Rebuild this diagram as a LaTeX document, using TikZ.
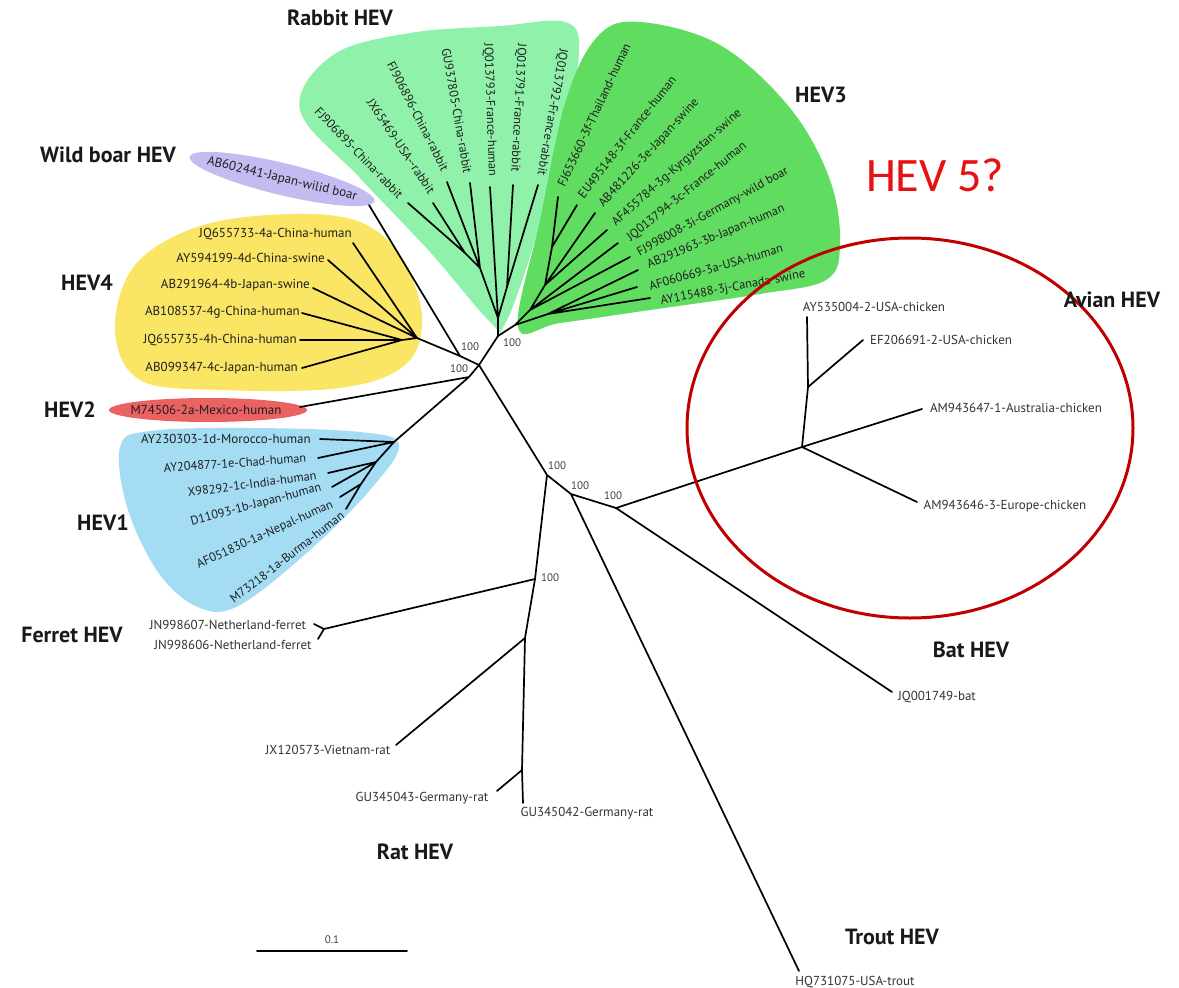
\documentclass[tikz,border=0pt]{standalone}
\usepackage{fontspec}
\setmainfont{PT Sans}
\newfontfamily\calib{Carlito}
\definecolor{rabbitc}{RGB}{144,242,170}
\definecolor{hevthree}{RGB}{96,220,96}
\definecolor{yellowc}{RGB}{250,230,100}
\definecolor{boarc}{RGB}{196,188,240}
\definecolor{hevtwo}{RGB}{234,98,98}
\definecolor{bluec}{RGB}{164,220,244}
\definecolor{ellred}{RGB}{192,0,0}
\definecolor{hfive}{RGB}{232,16,16}
\begin{document}
\begin{tikzpicture}[x=1pt,y=-1pt,
  br/.style={line width=1.7pt, black, line cap=round, line join=round},
  lab/.style={font=\fontsize{13}{13}\selectfont, inner sep=0pt, text=black!88},
  flab/.style={font=\fontsize{12.4}{12.4}\selectfont, inner sep=0pt, text=black!88},
  glab/.style={font=\fontsize{13}{13}\selectfont, inner sep=0pt, text=black!80},
  grp/.style={font=\bfseries\fontsize{22}{22}\selectfont, inner sep=0pt, text=black!90},
  bs/.style={font=\fontsize{11}{11}\selectfont, inner sep=0pt, text=black!75}]
\fill[white] (0,0) rectangle (1179,988);
\useasboundingbox (0,0) rectangle (1179,988);

% ---------- coloured clade areas ----------
\fill[rabbitc] plot[smooth cycle, tension=0.6] coordinates {(300,110) (333,55) (410,33) (500,26) (565,22) (579,52) (562,140) (532,250) (505,324) (490,322) (430,252) (360,178)};
\fill[hevthree] plot[smooth cycle, tension=0.6] coordinates {(518,327) (540,220) (566,100) (598,36) (640,22) (720,45) (790,108) (830,180) (840,245) (826,280) (760,294) (650,310) (560,323)};
\fill[yellowc] plot[smooth cycle, tension=0.6] coordinates {(115,330) (135,265) (200,226) (290,214) (360,222) (402,258) (422,318) (405,365) (340,388) (220,390) (140,380)};
\fill[bluec] plot[smooth cycle, tension=0.6] coordinates {(120,447) (150,431) (250,428) (360,432) (399,445) (370,490) (310,550) (240,605) (200,608) (160,575) (128,510)};
\fill[hevtwo] (208,410) ellipse [x radius=99, y radius=12];
\fill[boarc, rotate around={-13.5:(282,179)}] (282,179) ellipse [x radius=95, y radius=16];

% ---------- tree coordinates ----------
\coordinate (c0) at (479,365);
\coordinate (wb4) at (460,356);
\coordinate (wbt) at (369,205);
\coordinate (h4) at (417,338);
\coordinate (h4b) at (402,340);
\coordinate (t4a) at (353,243);
\coordinate (t4d) at (328,260);
\coordinate (t4b) at (313,288);
\coordinate (t4g) at (302,313);
\coordinate (t4h) at (300,340);
\coordinate (t4c) at (302,368);
\coordinate (rh) at (498,336);
\coordinate (r0) at (498,318);
\coordinate (rl) at (480,268);
\coordinate (rll) at (465,253);
\coordinate (rr) at (507,287);
\coordinate (tr1) at (408,203);
\coordinate (tr2) at (433,203);
\coordinate (tr3) at (447,182);
\coordinate (tr4) at (470,183);
\coordinate (tr5) at (490,187);
\coordinate (tr6) at (513,185);
\coordinate (tr7) at (538,185);
\coordinate (h3r) at (515,325);
\coordinate (h3a) at (530,310);
\coordinate (h3b) at (548,314);
\coordinate (h3c) at (545,285);
\coordinate (h3d) at (552,247);
\coordinate (t31) at (558,197);
\coordinate (t32) at (577,205);
\coordinate (t33) at (595,213);
\coordinate (t34) at (607,230);
\coordinate (t35) at (618,243);
\coordinate (t36) at (630,257);
\coordinate (t37) at (638,270);
\coordinate (t38) at (637,287);
\coordinate (t39) at (650,298);
\coordinate (n12) at (469,377);
\coordinate (t2) at (300,407);
\coordinate (h1a) at (394,442);
\coordinate (h1b) at (376,462);
\coordinate (h1c) at (361,484);
\coordinate (t1d) at (320,439);
\coordinate (t1e) at (318,458);
\coordinate (t1c) at (328,473);
\coordinate (t1b) at (332,487);
\coordinate (t1n) at (340,497);
\coordinate (t1m) at (346,509);
\coordinate (n1) at (547,475);
\coordinate (nrf) at (535,579);
\coordinate (fn) at (324,629);
\coordinate (tf7) at (314,624);
\coordinate (tf6) at (318,639);
\coordinate (nr1) at (525,638);
\coordinate (tvr) at (396,745);
\coordinate (nr2) at (522,770);
\coordinate (tg43) at (497,791);
\coordinate (tg42) at (523,803);
\coordinate (n2) at (571,494);
\coordinate (ttr) at (799,971);
\coordinate (n3) at (616,508);
\coordinate (tbat) at (892,692);
\coordinate (av) at (802,447);
\coordinate (av1) at (808,387);
\coordinate (tay) at (807,317);
\coordinate (tef) at (863,340);
\coordinate (tam7) at (922,409);
\coordinate (tam6) at (917,502);
\coordinate (sb1) at (257,951);
\coordinate (sb2) at (407,951);

% ---------- branches ----------
\draw[br] (c0) -- (wb4) (wb4) -- (wbt) (wb4) -- (h4);
\draw[br] (h4) -- (t4a) (h4) -- (t4d) (h4) -- (t4b) (h4) -- (h4b);
\draw[br] (h4b) -- (t4g) (h4b) -- (t4h) (h4b) -- (t4c);
\draw[br] (c0) -- (rh) (rh) -- (r0) (rh) -- (h3r);
\draw[br] (r0) -- (rl) (r0) -- (tr5) (r0) -- (rr);
\draw[br] (rl) -- (rll) (rl) -- (tr3) (rl) -- (tr4);
\draw[br] (rll) -- (tr1) (rll) -- (tr2);
\draw[br] (rr) -- (tr6) (rr) -- (tr7);
\draw[br] (h3r) -- (h3a) (h3r) -- (h3b);
\draw[br] (h3b) -- (t37) (h3b) -- (t38) (h3b) -- (t39);
\draw[br] (h3a) -- (h3c) (h3a) -- (t35) (h3a) -- (t36);
\draw[br] (h3c) -- (h3d) (h3c) -- (t33) (h3c) -- (t34);
\draw[br] (h3d) -- (t31) (h3d) -- (t32);
\draw[br] (c0) -- (n12) (n12) -- (t2) (n12) -- (h1a);
\draw[br] (h1a) -- (t1d) (h1a) -- (t1e) (h1a) -- (h1b);
\draw[br] (h1b) -- (t1c) (h1b) -- (t1b) (h1b) -- (h1c);
\draw[br] (h1c) -- (t1n) (h1c) -- (t1m);
\draw[br] (c0) -- (n1) (n1) -- (nrf) (n1) -- (n2);
\draw[br] (nrf) -- (fn) (fn) -- (tf7) (fn) -- (tf6);
\draw[br] (nrf) -- (nr1) (nr1) -- (tvr) (nr1) -- (nr2);
\draw[br] (nr2) -- (tg43) (nr2) -- (tg42);
\draw[br] (n2) -- (ttr) (n2) -- (n3);
\draw[br] (n3) -- (tbat) (n3) -- (av);
\draw[br] (av) -- (av1) (av1) -- (tay) (av1) -- (tef);
\draw[br] (av) -- (tam7) (av) -- (tam6);
\draw[br] (sb1) -- (sb2);

% ---------- bootstrap values ----------
\node[bs] (b1) at (470,347) {100};
\node[bs] (b2) at (512,343) {100};
\node[bs] (b3) at (459,369) {100};
\node[bs] (b4) at (557,466) {100};
\node[bs] (b5) at (580,486) {100};
\node[bs] (b6) at (613,496) {100};
\node[bs] (b7) at (550,578) {100};
\node[bs] (sbl) at (332,940) {0.1};

% ---------- rabbit labels ----------
\node[flab, rotate=-46] (lr1) at (359,153) {FJ906895-China-rabbit};
\node[flab, rotate=-56] (lr2) at (401,146) {JX65469-USA-{}-rabbit};
\node[flab, rotate=-63] (lr3) at (418,116) {FJ906896-China-rabbit};
\node[flab, rotate=-80] (lr4) at (457,111) {GU937805-China-rabbit};
\node[flab, rotate=-88] (lr5) at (490,110) {JQ013793-France-human};
\node[flab, rotate=-93] (lr6) at (518,108) {JQ013791-France-rabbit};
\node[flab, rotate=-100] (lr7) at (552,112) {JQ013792-France-rabbit};

% ---------- HEV3 labels ----------
\node[flab, rotate=65] (l31) at (594,115) {FJ653660-3f-Thailand-human};
\node[flab, rotate=52] (l32) at (627,137) {EU495148-3f-France-human};
\node[flab, rotate=47.6] (l33) at (649,153) {AB481226-3e-Japan-swine};
\node[flab, rotate=41.7] (l34) at (677,168) {AF455784-3g-Kyrgyzstan-swine};
\node[flab, rotate=39] (l35) at (687,192) {JQ013794-3c-France-human};
\node[flab, rotate=29] (l36) at (713,212) {FJ998008-3i-Germany-wild boar};
\node[flab, rotate=23] (l37) at (716,237) {AB291963-3b-Japan-human};
\node[flab, rotate=16] (l38) at (716,267) {AF060669-3a-USA-human};
\node[flab, rotate=10.7] (l39) at (733,288) {AY115488-3j-Canada-swine};

% ---------- wild boar / HEV4 / HEV2 / HEV1 labels ----------
\node[lab, rotate=-13.5] (lwb) at (282,179) {AB602441-Japan-wilid boar};
\node[lab, anchor=east] (l4a) at (352,234) {JQ655733-4a-China-human};
\node[lab, anchor=east] (l4d) at (325,258) {AY594199-4d-China-swine};
\node[lab, anchor=east] (l4b) at (310,285) {AB291964-4b-Japan-swine};
\node[lab, anchor=east] (l4g) at (300,312) {AB108537-4g-China-human};
\node[lab, anchor=east] (l4h) at (297,340) {JQ655735-4h-China-human};
\node[lab, anchor=east] (l4c) at (298,368) {AB099347-4c-Japan-human};
\node[lab] (l2a) at (206,410) {M74506-2a-Mexico-human};
\node[lab] (l1d) at (226,439) {AY230303-1d-Morocco-human};
\node[flab, rotate=4] (l1e) at (235,463) {AY204877-1e-Chad-human};
\node[flab, rotate=7.5] (l1c) at (252,484) {X98292-1c-India-human};
\node[flab, rotate=15] (l1b) at (256,505) {D11093-1b-Japan-human};
\node[flab, rotate=24.5] (l1n) at (265,535) {AF051830-1a-Nepal-human};
\node[flab, rotate=38] (l1m) at (287,557) {M73218-1a-Burma-human};

% ---------- other leaf labels ----------
\node[glab] (lf7) at (228,625) {JN998607-Netherland-ferret};
\node[glab] (lf6) at (233,645) {JN998606-Netherland-ferret};
\node[glab] (lvr) at (328,750) {JX120573-Vietnam-rat};
\node[glab] (lg43) at (422,798) {GU345043-Germany-rat};
\node[glab] (lg42) at (587,813) {GU345042-Germany-rat};
\node[glab] (ltr) at (855,982) {HQ731075-USA-trout};
\node[glab] (lbat) at (937,697) {JQ001749-bat};
\node[glab] (lay) at (874,307) {AY535004-2-USA-chicken};
\node[glab] (lef) at (941,340) {EF206691-2-USA-chicken};
\node[glab] (lam7) at (1016,408) {AM943647-1-Australia-chicken};
\node[glab] (lam6) at (1005,506) {AM943646-3-Europe-chicken};

% ---------- group names ----------
\node[grp] (gr) at (340,18) {Rabbit HEV};
\node[grp] (gwb) at (108,155) {Wild boar HEV};
\node[grp] (g4) at (87,283) {HEV4};
\node[grp] (g2) at (70,410) {HEV2};
\node[grp] (g1) at (103,523) {HEV1};
\node[grp] (gf) at (72,635) {Ferret HEV};
\node[grp] (grat) at (415,852) {Rat HEV};
\node[grp] (gtr) at (892,937) {Trout HEV};
\node[grp] (gbat) at (971,650) {Bat HEV};
\node[grp] (g3) at (821,95) {HEV3};

% ---------- highlight ----------
\draw[ellred, line width=3pt] (910,428) ellipse [x radius=223, y radius=190];
\node[grp] (gav) at (1112,300) {Avian HEV};
\node[font=\calib\fontsize{48}{48}\selectfont, text=hfive, inner sep=0pt] (h5) at (935,175) {HEV 5?};
\end{tikzpicture}
\end{document}
